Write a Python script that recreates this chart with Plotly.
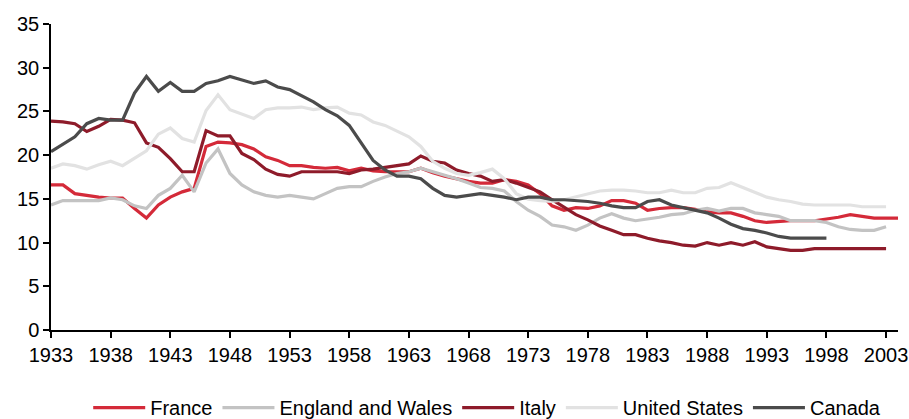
import plotly.graph_objects as go

years_france = list(range(1933, 2005))
years_ew = list(range(1933, 2004))
years_italy = list(range(1933, 2004))
years_us = list(range(1933, 2004))
years_canada = list(range(1933, 1999))

france = [16.6, 16.6, 15.6, 15.4, 15.2, 15.1, 15.1, 13.9, 12.8, 14.3,
          15.2, 15.8, 16.2, 21.0, 21.5, 21.4, 21.2, 20.7, 19.8, 19.4,
          18.8, 18.8, 18.6, 18.5, 18.6, 18.2, 18.5, 18.2, 18.1, 18.1,
          18.1, 18.5, 18.0, 17.6, 17.3, 17.0, 16.8, 16.8, 17.2, 17.0,
          16.6, 15.6, 14.2, 13.7, 14.0, 13.9, 14.2, 14.8, 14.8, 14.5,
          13.7, 13.9, 14.0, 14.0, 13.8, 13.5, 13.4, 13.4, 13.0, 12.5,
          12.3, 12.4, 12.5, 12.5, 12.5, 12.7, 12.9, 13.2, 13.0, 12.8,
          12.8, 12.8]

england_wales = [14.3, 14.8, 14.8, 14.8, 14.8, 15.1, 14.9, 14.2, 13.9, 15.4,
                 16.2, 17.7, 15.8, 19.1, 20.7, 17.9, 16.6, 15.8, 15.4, 15.2,
                 15.4, 15.2, 15.0, 15.6, 16.2, 16.4, 16.4, 17.0, 17.5, 17.9,
                 18.1, 18.5, 18.1, 17.7, 17.3, 16.8, 16.3, 16.2, 15.9, 14.7,
                 13.7, 13.0, 12.0, 11.8, 11.4, 12.0, 12.8, 13.3, 12.8, 12.5,
                 12.7, 12.9, 13.2, 13.3, 13.7, 13.9, 13.6, 13.9, 13.9, 13.4,
                 13.2, 13.0, 12.5, 12.5, 12.5, 12.3, 11.8, 11.5, 11.4, 11.4,
                 11.8]

italy = [23.9, 23.8, 23.6, 22.7, 23.3, 24.1, 24.0, 23.7, 21.4, 20.9,
         19.6, 18.1, 18.1, 22.8, 22.2, 22.2, 20.2, 19.5, 18.4, 17.8,
         17.6, 18.1, 18.1, 18.1, 18.1, 17.9, 18.3, 18.4, 18.6, 18.8,
         19.0, 19.9, 19.3, 19.1, 18.3, 17.9, 17.6, 17.0, 17.2, 16.8,
         16.3, 15.8, 14.9, 14.0, 13.2, 12.6, 11.9, 11.4, 10.9, 10.9,
         10.5, 10.2, 10.0, 9.7, 9.6, 10.0, 9.7, 10.0, 9.7, 10.1,
         9.5, 9.3, 9.1, 9.1, 9.3, 9.3, 9.3, 9.3, 9.3, 9.3,
         9.3]

united_states = [18.5, 19.0, 18.8, 18.4, 18.9, 19.3, 18.8, 19.6, 20.5, 22.4,
                 23.1, 21.9, 21.5, 25.1, 26.9, 25.2, 24.7, 24.2, 25.2, 25.4,
                 25.4, 25.5, 25.2, 25.4, 25.5, 24.8, 24.6, 23.8, 23.4, 22.7,
                 22.1, 21.0, 19.3, 18.5, 17.9, 17.7, 18.0, 18.4, 17.3, 15.6,
                 14.95, 14.8, 14.7, 14.9, 15.25, 15.6, 15.9, 16.0, 16.0, 15.9,
                 15.7, 15.7, 16.0, 15.7, 15.7, 16.2, 16.3, 16.85, 16.3, 15.7,
                 15.2, 14.9, 14.7, 14.4, 14.3, 14.3, 14.3, 14.3, 14.1, 14.1,
                 14.1]

canada = [20.4, 21.3, 22.1, 23.6, 24.2, 24.0, 24.0, 27.1, 29.0, 27.3,
          28.3, 27.3, 27.3, 28.2, 28.5, 29.0, 28.6, 28.2, 28.5, 27.8,
          27.5, 26.8, 26.1, 25.2, 24.5, 23.4, 21.4, 19.4, 18.3, 17.6,
          17.6, 17.3, 16.2, 15.4, 15.2, 15.4, 15.6, 15.4, 15.2, 14.9,
          15.2, 15.2, 14.9, 14.9, 14.8, 14.7, 14.5, 14.2, 14.0, 14.0,
          14.7, 14.9, 14.3, 14.0, 13.7, 13.4, 12.8, 12.1, 11.6, 11.4,
          11.1, 10.7, 10.5, 10.5, 10.5, 10.5]

tick_years = list(range(1933, 2004, 5))
y_ticks = [0, 5, 10, 15, 20, 25, 30, 35]

series = [
    ("France", years_france, france, "#d42a39"),
    ("England and Wales", years_ew, england_wales, "#c3c3c3"),
    ("Italy", years_italy, italy, "#8e1b2a"),
    ("United States", years_us, united_states, "#e2e2e2"),
    ("Canada", years_canada, canada, "#4b4b4b"),
]

FONT = "Liberation Sans, Arial, sans-serif"
FS = 20

fig = go.Figure()
for name, xs, ys, color in series:
    fig.add_trace(go.Scatter(x=xs, y=ys, mode="lines", name=name,
                             line=dict(color=color, width=3.2)))

fig.update_layout(
    width=909, height=419,
    margin=dict(l=51, r=11, t=24, b=89, autoexpand=False),
    paper_bgcolor="white", plot_bgcolor="white",
    font=dict(family=FONT, size=FS, color="black"),
    showlegend=True,
    legend=dict(orientation="h", x=0.515, xanchor="center", y=-0.19, yanchor="top",
                font=dict(size=FS), traceorder="normal", itemwidth=52,
                tracegroupgap=0),
    xaxis=dict(range=[1933, 2004], tickmode="array", tickvals=tick_years,
               showgrid=False, zeroline=False, showline=True, linecolor="black",
               linewidth=1.5, ticks="outside", ticklen=6, tickcolor="black",
               tickwidth=1.5, tickfont=dict(size=FS), ticklabeloverflow="allow"),
    yaxis=dict(range=[0, 35], tickmode="array", tickvals=y_ticks,
               showgrid=False, zeroline=False, showline=True, linecolor="black",
               linewidth=1.5, ticks="outside", ticklen=6, tickcolor="black",
               tickwidth=1.5, tickfont=dict(size=FS), ticklabeloverflow="allow"),
)

# remove the default page margin so the 909x419 figure fills the window exactly
fig.write_html(
    "out.html",
    config={"displayModeBar": False},
    post_script="document.body.style.margin='0';document.body.style.overflow='hidden';",
)
